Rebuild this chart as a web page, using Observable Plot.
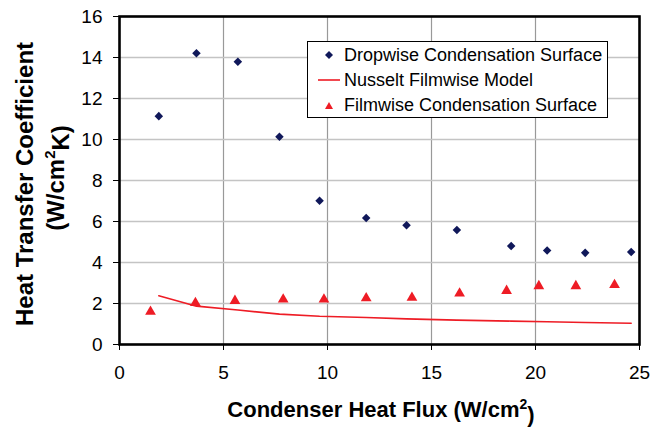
<!DOCTYPE html>
<html>
<head>
<meta charset="utf-8">
<script src="https://cdn.jsdelivr.net/npm/d3@7"></script>
<script src="https://cdn.jsdelivr.net/npm/@observablehq/plot@0.6"></script>
<style>
  html, body { margin: 0; padding: 0; background: #fff; }
  #wrap { position: relative; width: 665px; height: 429px; font-family: "Liberation Sans", Arial, sans-serif; }
  #legend { position: absolute; left: 307px; top: 41px; width: 301px; height: 77px; border: 1px solid #000; background: #fff; box-sizing: border-box; }
  .row { position: absolute; left: 0; height: 24px; display: flex; align-items: center; font-size: 18px; color: #000; white-space: nowrap; }
  .row svg { width: 36px; height: 20px; }
</style>
</head>
<body>
<div id="wrap"></div>
<script>
// Data
const dropX = [1.89, 3.70, 5.69, 7.69, 9.62, 11.86, 13.80, 16.22, 18.83, 20.56, 22.39, 24.60];
const dropY = [11.14, 14.21, 13.79, 10.13, 7.01, 6.17, 5.82, 5.58, 4.80, 4.59, 4.47, 4.51];
const filmX = [1.49, 3.65, 5.55, 7.87, 9.83, 11.86, 14.06, 16.35, 18.61, 20.16, 21.94, 23.80];
const filmY = [1.60, 2.03, 2.13, 2.20, 2.20, 2.26, 2.28, 2.49, 2.62, 2.85, 2.85, 2.91];
const nusseltX = [1.89, 3.70, 5.69, 7.69, 9.62, 11.86, 13.80, 16.22, 18.83, 20.56, 22.39, 24.60];
const nusseltY = [2.38, 1.87, 1.68, 1.48, 1.38, 1.32, 1.25, 1.19, 1.14, 1.11, 1.07, 1.04];
const xTicks = [0, 5, 10, 15, 20, 25];
const yTicks = [0, 2, 4, 6, 8, 10, 12, 14, 16];
const seriesNames = ["Dropwise Condensation Surface", "Nusselt Filmwise Model", "Filmwise Condensation Surface"];

const navy = "#10185a";
const red = "#ee1c25";

const drop = dropX.map((x, i) => ({x, y: dropY[i]}));
const film = filmX.map((x, i) => ({x, y: filmY[i]}));
const nusselt = nusseltX.map((x, i) => ({x, y: nusseltY[i]}));

const chart = Plot.plot({
  width: 665,
  height: 429,
  marginLeft: 119,
  marginRight: 26,
  marginTop: 16,
  marginBottom: 85,
  x: {domain: [0, 25]},
  y: {domain: [0, 16]},
  style: {fontFamily: "'Liberation Sans', Arial, sans-serif", fontSize: "19px", color: "#000", background: "#fff"},
  marks: [
    Plot.gridX(xTicks.slice(1, -1), {stroke: "#999", strokeOpacity: 1, strokeWidth: 1.2}),
    Plot.gridY(yTicks.slice(1, -1), {stroke: "#c4c4c4", strokeOpacity: 1, strokeWidth: 1.6}),
    Plot.axisX(xTicks, {tickSize: 6, tickPadding: 15, label: null, fontSize: 19}),
    Plot.axisY(yTicks, {tickSize: 6, tickPadding: 11, label: null, fontSize: 19}),
    Plot.frame({stroke: "#000", strokeWidth: 2.6}),
    Plot.line(nusselt, {x: "x", y: "y", stroke: red, strokeWidth: 1.6}),
    Plot.dot(film, {x: "x", y: "y", symbol: "triangle", fill: red, r: 4}),
    Plot.dot(drop, {x: "x", y: "y", symbol: "square", rotate: 45, fill: navy, r: 3.4})
  ]
});

const svg = d3.select(chart);
// Y axis title (two lines)
const yt = svg.append("g").attr("font-weight", "bold").attr("font-size", 24).attr("text-anchor", "middle").attr("fill", "#000");
yt.append("text").attr("transform", "translate(33,184) rotate(-90)").text("Heat Transfer Coefficient");
const l2 = yt.append("text").attr("transform", "translate(64,178) rotate(-90)");
l2.append("tspan").text("(W/cm");
l2.append("tspan").attr("font-size", 15).attr("dy", "-0.6em").text("2");
l2.append("tspan").attr("dy", "0.6em").text("K)");
// X axis title
const xt = svg.append("text").attr("x", 381).attr("y", 417).attr("font-weight", "bold").attr("font-size", 22).attr("text-anchor", "middle").attr("fill", "#000");
xt.append("tspan").text("Condenser Heat Flux (W/cm");
xt.append("tspan").attr("font-size", 14).attr("dy", "-0.6em").text("2");
xt.append("tspan").attr("dy", "0.6em").text(")");

const wrap = document.getElementById("wrap");
wrap.appendChild(chart);

// Legend
const legend = document.createElement("div");
legend.id = "legend";
const tops = [1, 26, 51];
const markers = [
  `<svg viewBox="0 0 36 20"><path d="M21 6 L25 10 L21 14 L17 10 Z" fill="${navy}"/></svg>`,
  `<svg viewBox="0 0 36 20"><line x1="10" x2="32" y1="10" y2="10" stroke="${red}" stroke-width="1.6"/></svg>`,
  `<svg viewBox="0 0 36 20"><path d="M21 7 L25 14 L17 14 Z" fill="${red}"/></svg>`
];
seriesNames.forEach((name, i) => {
  const row = document.createElement("div");
  row.className = "row";
  row.style.top = tops[i] + "px";
  row.innerHTML = markers[i] + `<span>${name}</span>`;
  legend.appendChild(row);
});
wrap.appendChild(legend);
</script>
</body>
</html>
